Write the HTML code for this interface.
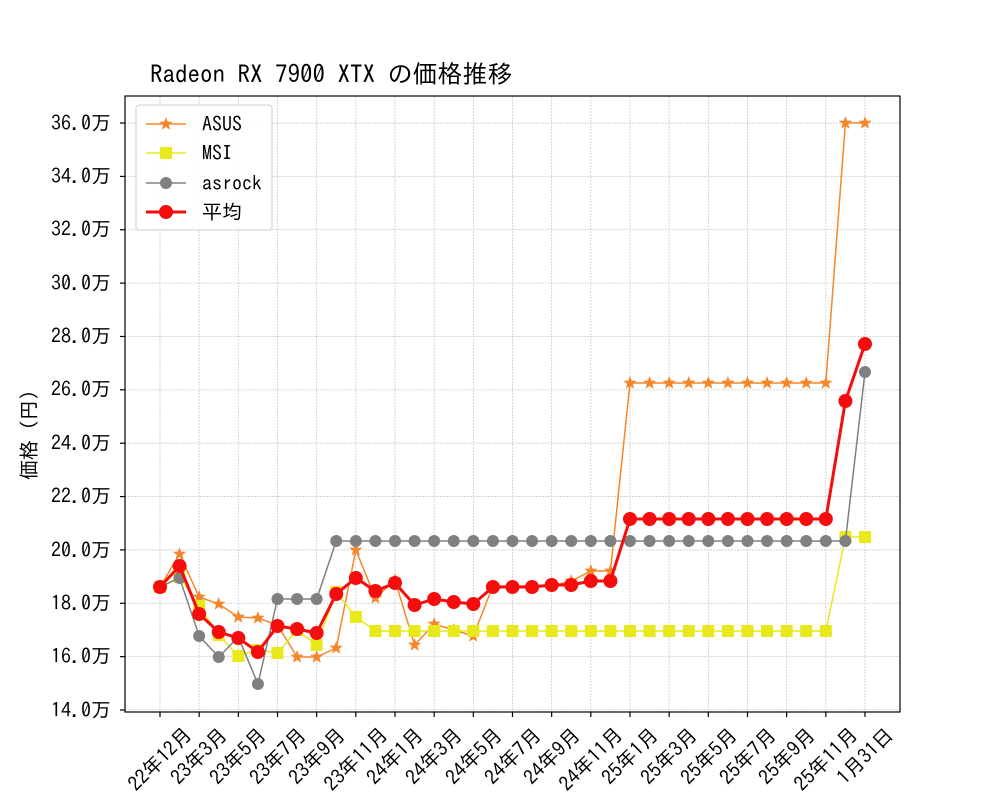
<!DOCTYPE html>
<html><head><meta charset="utf-8"><style>
body{margin:0;background:#fff}
svg text{font-family:"IPAGothic","Noto Sans CJK JP",monospace;font-size:20px;fill:#000}
</style></head><body>
<svg id="s" width="1000" height="800" xmlns="http://www.w3.org/2000/svg">
<rect width="1000" height="800" fill="#fff"/>
<g id="grid" stroke="#ccc" stroke-width="0.8" stroke-dasharray="2,1"></g>
<g id="series"></g>
<rect x="125" y="96" width="775" height="616" fill="none" stroke="#000" stroke-width="1.2"/>
<g id="ticks" stroke="#000" stroke-width="1.2"></g>
<text x="150" y="83" style="font-size:25px">Radeon RX 7900 XTX の価格推移</text>
<text transform="translate(36,430) rotate(-90)" text-anchor="middle">価格（円）</text>
<g text-anchor="end">
<text x="111" y="717">14.0万</text><text x="111" y="663">16.0万</text><text x="111" y="610">18.0万</text>
<text x="111" y="557">20.0万</text><text x="111" y="503">22.0万</text><text x="111" y="450">24.0万</text>
<text x="111" y="396">26.0万</text><text x="111" y="343">28.0万</text><text x="111" y="290">30.0万</text>
<text x="111" y="236">32.0万</text><text x="111" y="183">34.0万</text><text x="111" y="130">36.0万</text>
</g>
<g text-anchor="middle" dominant-baseline="central">
<text transform="translate(160,759) rotate(-45)">22年12月</text>
<text transform="translate(199,756) rotate(-45)">23年3月</text>
<text transform="translate(238,756) rotate(-45)">23年5月</text>
<text transform="translate(278,756) rotate(-45)">23年7月</text>
<text transform="translate(317,756) rotate(-45)">23年9月</text>
<text transform="translate(356,759) rotate(-45)">23年11月</text>
<text transform="translate(395,756) rotate(-45)">24年1月</text>
<text transform="translate(434,756) rotate(-45)">24年3月</text>
<text transform="translate(474,756) rotate(-45)">24年5月</text>
<text transform="translate(513,756) rotate(-45)">24年7月</text>
<text transform="translate(552,756) rotate(-45)">24年9月</text>
<text transform="translate(591,759) rotate(-45)">24年11月</text>
<text transform="translate(630,756) rotate(-45)">25年1月</text>
<text transform="translate(669,756) rotate(-45)">25年3月</text>
<text transform="translate(709,756) rotate(-45)">25年5月</text>
<text transform="translate(748,756) rotate(-45)">25年7月</text>
<text transform="translate(787,756) rotate(-45)">25年9月</text>
<text transform="translate(826,759) rotate(-45)">25年11月</text>
<text transform="translate(865,756) rotate(-45)">1月31日</text>
</g>
<rect x="136" y="105" width="136" height="125" rx="3" fill="#fff" fill-opacity="0.85" stroke="#ccc"/>
<g id="leg"></g>
<text x="202" y="131">ASUS</text><text x="202" y="160">MSI</text><text x="202" y="190">asrock</text><text x="202" y="219">平均</text>
</svg>
<script>
const NS="http://www.w3.org/2000/svg";
function el(p,t,a){const e=document.createElementNS(NS,t);for(const k in a)e.setAttribute(k,a[k]);p.appendChild(e);return e;}
const X=i=>160+19.583*i;
const g=document.getElementById('grid'),tk=document.getElementById('ticks');
for(let i=0;i<=36;i+=2){el(g,'line',{x1:X(i),x2:X(i),y1:96,y2:712});el(tk,'line',{x1:X(i),x2:X(i),y1:712,y2:717});}
for(let k=0;k<12;k++){const y=710-53.36*k;el(g,'line',{x1:125,x2:900,y1:y,y2:y});el(tk,'line',{x1:120,x2:125,y1:y,y2:y});}
const asus=[587,554,597,604,617,618,625,657,657,648,550,598,580,645,624,630,636,586,586,586,586,581,571,571,383,383,383,383,383,383,383,383,383,383,383,123,123];
const msi=[587,577,606,635,656,650,653,630,645,592,617,631,631,631,631,631,631,631,631,631,631,631,631,631,631,631,631,631,631,631,631,631,631,631,631,537,537];
const asr=[587,578,636,657,637,684,599,599,599,541,541,541,541,541,541,541,541,541,541,541,541,541,541,541,541,541,541,541,541,541,541,541,541,541,541,541,372];
const avg=[587,566,614,632,638,652,626,629,633,594,578,591,583,605,599,602,604,587,587,587,585,585,581,581,519,519,519,519,519,519,519,519,519,519,519,401,344];
const S=document.getElementById('series');
function star(p,x,y,r,c){let pts=[];for(let k=0;k<10;k++){const a=-Math.PI/2+k*Math.PI/5,rr=k%2?r*0.42:r;pts.push((x+rr*Math.cos(a)).toFixed(1)+','+(y+rr*Math.sin(a)).toFixed(1));}el(p,'polygon',{points:pts.join(' '),fill:c});}
function draw(p,d,c,w,m){el(p,'polyline',{points:d.map((y,i)=>X(i)+','+y).join(' '),fill:'none',stroke:c,'stroke-width':w});
d.forEach((y,i)=>{const x=X(i);if(m=='s')star(p,x,y,7,c);else if(m=='q')el(p,'rect',{x:x-6,y:y-6,width:12,height:12,fill:c});else el(p,'circle',{cx:x,cy:y,r:m=='c'?6:7,fill:c});});}
draw(S,asus,'#f5862a',1.5,'s');draw(S,msi,'#e8e81a',1.5,'q');draw(S,asr,'#808080',1.5,'c');draw(S,avg,'#f50d0d',3,'C');
const L=document.getElementById('leg');
function lg(y,c,w,m){el(L,'line',{x1:146,x2:186,y1:y,y2:y,stroke:c,'stroke-width':w});
if(m=='s')star(L,166,y,7,c);else if(m=='q')el(L,'rect',{x:160,y:y-6,width:12,height:12,fill:c});else el(L,'circle',{cx:166,cy:y,r:m=='c'?6:7,fill:c});}
lg(124,'#f5862a',1.5,'s');lg(153,'#e8e81a',1.5,'q');lg(183,'#808080',1.5,'c');lg(212,'#f50d0d',3,'C');
</script>
</body></html>
